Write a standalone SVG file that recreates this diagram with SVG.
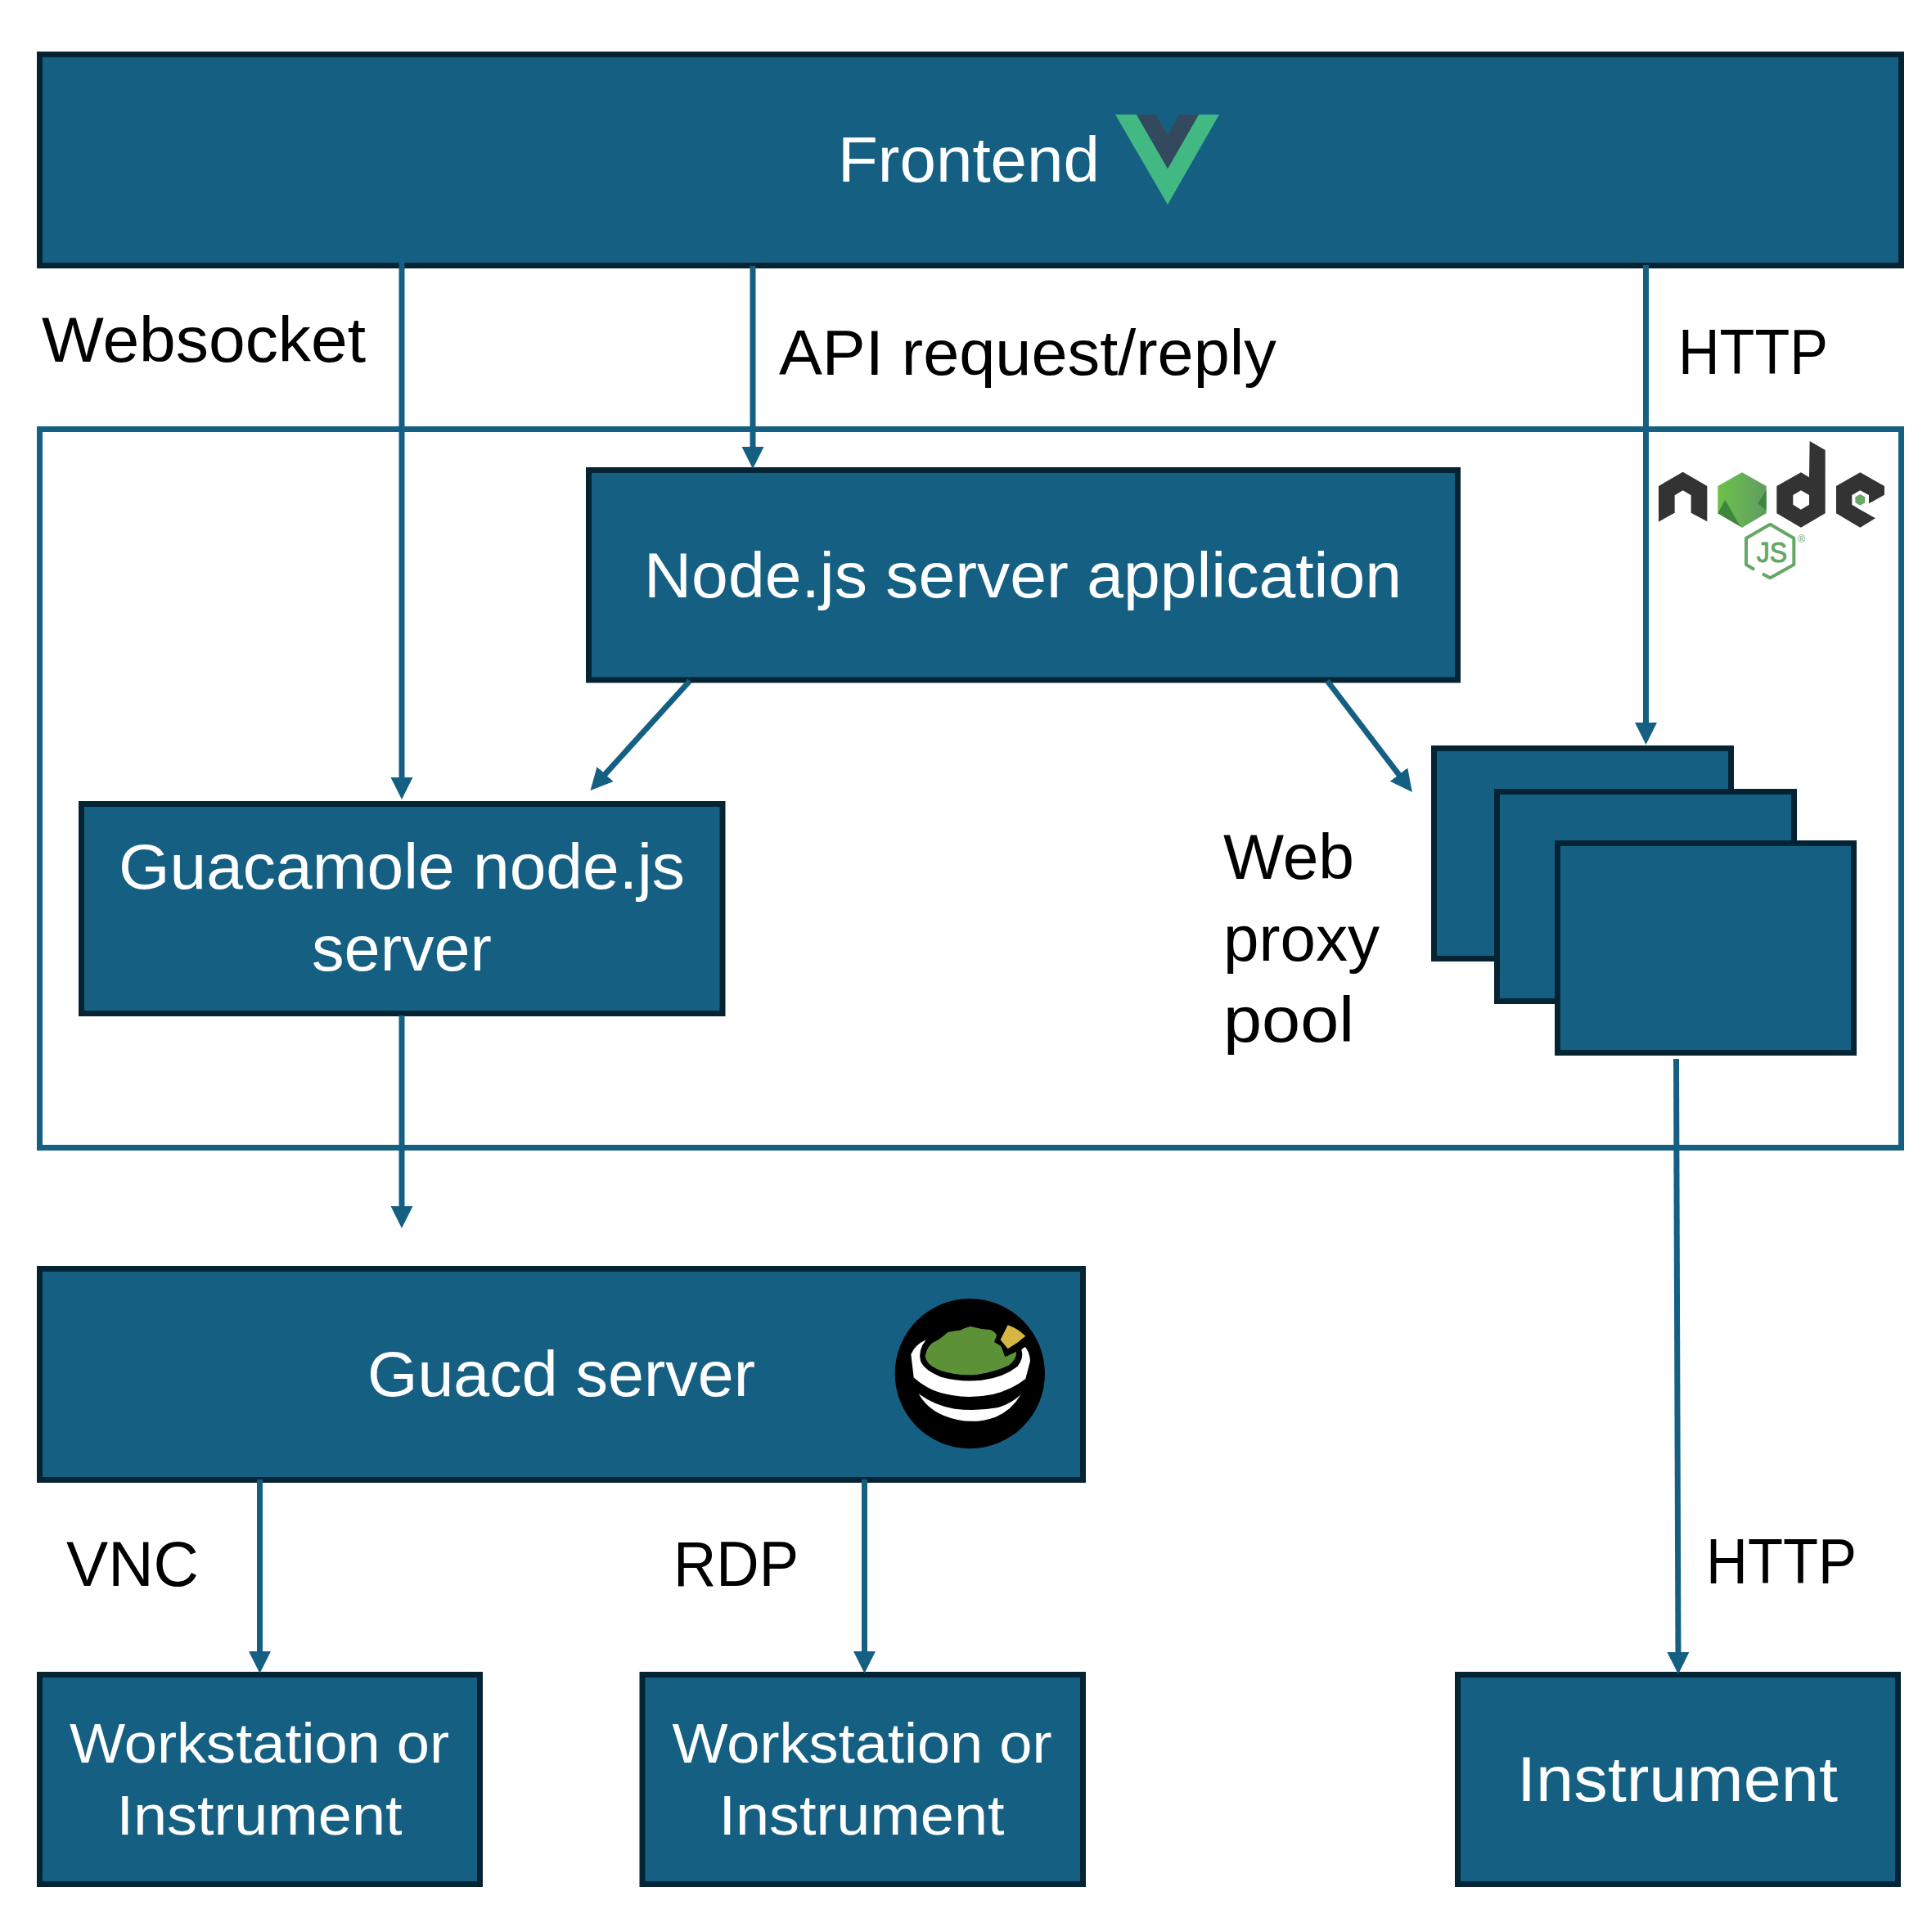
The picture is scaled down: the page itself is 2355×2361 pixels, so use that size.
<svg xmlns="http://www.w3.org/2000/svg" width="2355" height="2361" viewBox="0 0 2355 2361">
<defs>
<style>
.box{fill:#156082;stroke:#042433;stroke-width:7}
.wire{fill:none;stroke:#156082;stroke-width:7;marker-end:url(#head)}
text{font-family:"Liberation Sans",Arial,sans-serif}
.w{fill:#fff;font-size:77px;text-anchor:middle}
.s{fill:#fff;font-size:68px;text-anchor:middle}
.k{fill:#000;font-size:77px}
</style>
<marker id="head" markerUnits="userSpaceOnUse" markerWidth="28" markerHeight="28" refX="14" refY="13.5" orient="auto"><path d="M0 0L27 13.5L0 27z" fill="#156082"/></marker>
<linearGradient id="hexg" x1="0" x2="1" y1="0" y2="0"><stop offset="0" stop-color="#6cc24a"/><stop offset="1" stop-color="#5f9c62"/></linearGradient>
</defs>
<rect width="2355" height="2361" fill="#fff"/>
<g id="container"><rect x="48.5" y="524.5" width="2275" height="878" fill="none" stroke="#156082" stroke-width="7"/></g>
<g id="frontend">
<rect class="box" x="48.5" y="66.5" width="2275" height="258"/>
<text class="w" x="1184" y="222" textLength="320" lengthAdjust="spacingAndGlyphs">Frontend</text>
<polygon points="1363,140 1389,140 1427,206 1465,140 1490,140 1427,250" fill="#42b883"/>
<polygon points="1389,140 1412.5,140 1427,165 1441,140 1465,140 1427,206" fill="#35495e"/>
</g>
<g id="node-app">
<rect class="box" x="719.5" y="574.5" width="1062" height="256.5"/>
<text class="w" x="1250" y="730" textLength="926" lengthAdjust="spacingAndGlyphs">Node.js server application</text>
</g>
<g id="node-logo" transform="translate(1960,500) scale(0.3333)">
<path fill="#333" d="M201 282L290 230L379 282V412L320 380V316L290 298L260 316V380L201 413z"/>
<path fill="url(#hexg)" d="M507 232L596 282V382L507 434L418 382V282z"/>
<path fill="#3e863d" d="M418 382L445 332L502 433L507 434zM596 296L565 346L596 372z"/>
<path fill="#333" fill-rule="evenodd" d="M755 117L812 150V382L723 434L634 382V282L723 232L753 250zM723 298L694 315V350L723 368L753 350V315z"/>
<path fill="#333" d="M940 232L1029 282V314L972 346V315L940 298L910 315V350L940 368L996 400L940 434L852 382V282z"/>
<path fill="#6aa86a" d="M940 312L958 322V343L940 353L922 343V322z"/>
<path fill="none" stroke="#65a765" stroke-width="12" stroke-linejoin="round" d="M582 604L610 619L697 570V473L610 422L522 473V570L552 588"/>
<text x="560" y="562" font-size="108" fill="#65a765" stroke="#65a765" stroke-width="3" textLength="112" lengthAdjust="spacingAndGlyphs">JS</text>
<text x="712" y="488" font-size="36" fill="#65a765">®</text>
</g>
<g id="guac-node">
<rect class="box" x="99.5" y="982.5" width="783.5" height="256"/>
<text class="w" x="491" y="1086" textLength="692" lengthAdjust="spacingAndGlyphs">Guacamole node.js</text>
<text class="w" x="491" y="1186" textLength="220" lengthAdjust="spacingAndGlyphs">server</text>
</g>
<g id="proxy-1"><rect class="box" x="1752.5" y="914.5" width="363" height="257"/></g>
<g id="proxy-2"><rect class="box" x="1829.5" y="967.5" width="363" height="256"/></g>
<g id="proxy-3"><rect class="box" x="1903.5" y="1030.5" width="362" height="256"/></g>
<g id="guacd">
<rect class="box" x="48.5" y="1550.5" width="1275" height="258"/>
<text class="w" x="686" y="1706" textLength="474" lengthAdjust="spacingAndGlyphs">Guacd server</text>
<g transform="translate(1060,1560) scale(0.3333)">
<circle cx="376" cy="356" r="275" fill="#000"/>
<path fill="#5c9138" d="M212 290Q220 255 240 242Q265 232 295 204Q320 198 340 197Q360 186 378 183Q410 192 450 195Q465 200 475 215L465 240L490 255L505 295L546 275Q550 300 520 325Q470 350 400 360Q330 365 270 345Q215 325 212 290z"/>
<path fill="#d5b642" d="M515 178Q550 190 580 218Q550 245 515 265L488 232z"/>
<path fill="#fff" d="M215 232Q175 250 160 285L170 370Q230 425 310 435Q380 448 460 432Q530 415 580 375L597 310Q595 275 578 258L565 268Q575 300 550 330Q500 370 420 380Q340 388 270 368Q210 345 195 310Q185 270 215 232z"/>
<path fill="#fff" d="M188 430Q250 475 320 485Q400 495 480 480Q530 465 563 432Q530 490 470 515Q400 540 330 525Q230 505 188 430z"/>
</g>
</g>
<g id="ws1">
<rect class="box" x="48.5" y="2046.5" width="538" height="256"/>
<text class="s" x="317" y="2154" textLength="464" lengthAdjust="spacingAndGlyphs">Workstation or</text>
<text class="s" x="317" y="2242" textLength="349" lengthAdjust="spacingAndGlyphs">Instrument</text>
</g>
<g id="ws2">
<rect class="box" x="785" y="2046.5" width="538.5" height="256"/>
<text class="s" x="1053.5" y="2154" textLength="464" lengthAdjust="spacingAndGlyphs">Workstation or</text>
<text class="s" x="1053" y="2242" textLength="349" lengthAdjust="spacingAndGlyphs">Instrument</text>
</g>
<g id="instrument">
<rect class="box" x="1781.5" y="2046.5" width="538" height="256"/>
<text class="w" x="2050" y="2201" textLength="392" lengthAdjust="spacingAndGlyphs">Instrument</text>
</g>
<g id="connectors">
<line class="wire" x1="491" y1="321" x2="491" y2="964"/>
<line class="wire" x1="920" y1="325" x2="920" y2="560"/>
<line class="wire" x1="2011.5" y1="324" x2="2011.5" y2="897"/>
<line class="wire" x1="843" y1="832" x2="730.2" y2="956.4"/>
<line class="wire" x1="1622" y1="832" x2="1718" y2="957.7"/>
<line class="wire" x1="491" y1="1241" x2="491" y2="1488"/>
<line class="wire" x1="2048.5" y1="1294" x2="2051" y2="2033"/>
<line class="wire" x1="317.5" y1="1808" x2="317.5" y2="2032"/>
<line class="wire" x1="1056.5" y1="1808" x2="1056.5" y2="2032"/>
</g>
<g id="labels">
<text class="k" x="51" y="442" textLength="396" lengthAdjust="spacingAndGlyphs">Websocket</text>
<text class="k" x="952" y="458" textLength="608" lengthAdjust="spacingAndGlyphs">API request/reply</text>
<text class="k" x="2051" y="457" textLength="183" lengthAdjust="spacingAndGlyphs">HTTP</text>
<text class="k" x="1495" y="1074" textLength="160" lengthAdjust="spacingAndGlyphs">Web</text>
<text class="k" x="1495" y="1174" textLength="191" lengthAdjust="spacingAndGlyphs">proxy</text>
<text class="k" x="1495" y="1273" textLength="160" lengthAdjust="spacingAndGlyphs">pool</text>
<text class="k" x="81" y="1938" textLength="162" lengthAdjust="spacingAndGlyphs">VNC</text>
<text class="k" x="823" y="1938" textLength="153" lengthAdjust="spacingAndGlyphs">RDP</text>
<text class="k" x="2085" y="1935" textLength="184" lengthAdjust="spacingAndGlyphs">HTTP</text>
</g>
</svg>
